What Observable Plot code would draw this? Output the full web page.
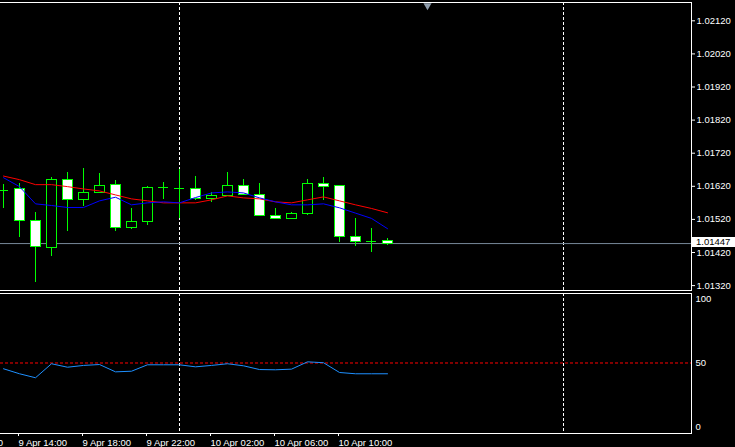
<!DOCTYPE html>
<html><head><meta charset="utf-8">
<script src="https://cdn.jsdelivr.net/npm/d3@7"></script>
<script src="https://cdn.jsdelivr.net/npm/@observablehq/plot@0.6"></script>
<style>
html,body{margin:0;padding:0;background:#000;}
#chart{position:relative;width:735px;height:447px;overflow:hidden;background:#000;}
#chart svg{position:absolute;left:0;overflow:visible;}
</style></head><body><div id="chart"></div>
<script>
// hourly bars, index 0 = 9 Apr 13:00
const bars = d3.range(25);
const open  = [1.01607,1.01612,1.01515,1.01434,1.01640,1.01579,1.01600,1.01625,1.01495,1.01513,1.01616,1.01612,1.01613,1.01581,1.01592,1.01622,1.01595,1.01531,1.01522,1.01537,1.01628,1.01622,1.01467,1.01454,1.01456];
const high  = [1.01625,1.01627,1.01541,1.01648,1.01661,1.01674,1.01658,1.01638,1.01552,1.01619,1.01632,1.01671,1.01650,1.01601,1.01662,1.01641,1.01628,1.01553,1.01541,1.01641,1.01647,1.01622,1.01523,1.01493,1.01462];
const low   = [1.01553,1.01464,1.01330,1.01409,1.01484,1.01560,1.01600,1.01484,1.01489,1.01502,1.01581,1.01522,1.01577,1.01571,1.01592,1.01593,1.01530,1.01522,1.01519,1.01533,1.01577,1.01451,1.01439,1.01421,1.01442];
const close = [1.01607,1.01515,1.01437,1.01640,1.01579,1.01600,1.01622,1.01495,1.01513,1.01616,1.01616,1.01612,1.01581,1.01592,1.01622,1.01595,1.01530,1.01522,1.01537,1.01628,1.01619,1.01466,1.01452,1.01454,1.01447];
const maRed  = [1.01651,1.01640,1.01625,1.01625,1.01619,1.01612,1.01606,1.01594,1.01582,1.01576,1.01570,1.01570,1.01570,1.01579,1.01591,1.01585,1.01582,1.01573,1.01570,1.01579,1.01588,1.01576,1.01564,1.01553,1.01540];
const maBlue = [1.01646,1.01619,1.01567,1.01562,1.01556,1.01556,1.01576,1.01587,1.01564,1.01570,1.01573,1.01570,1.01586,1.01600,1.01603,1.01600,1.01585,1.01573,1.01564,1.01564,1.01567,1.01555,1.01539,1.01523,1.01492];
const osc = [45.5,41.6,38.5,49.4,46.7,48.1,48.8,43.1,43.6,48.6,48.6,48.6,47.0,48.1,49.4,47.8,44.9,44.7,45.2,50.9,50.2,42.6,41.6,41.6,41.6];

const priceTicks = [1.0132,1.0142,1.0152,1.0162,1.0172,1.0182,1.0192,1.0202,1.0212];
const timeTickBars = [-3,1,5,9,13,17,21];
const timeTickLabels = ["9 Apr 10:00","9 Apr 14:00","9 Apr 18:00","9 Apr 22:00","10 Apr 02:00","10 Apr 06:00","10 Apr 10:00"];
const separatorBars = [11,35];
const lastPrice = 1.01447;
const oscLevel = 50;
const oscTicks = [0,50,100];
const shiftBar = 26.5;

const xDomain = [-0.1875, 43];
const priceDomain = [1.013052, 1.021753];
const oscDomain = [-4.9, 104.1];
const halfW = 0.3125;

const candles = bars.map((b,i)=>({i:b,o:open[i],h:high[i],l:low[i],c:close[i]}));
const fmt5 = d3.format(".5f");
const font = "'Liberation Sans', Arial, sans-serif";
const GREEN = "#00ff00";

function priceBox(index, scales, values, dims) {
  const py = scales.y(lastPrice);
  const x0 = dims.width - dims.marginRight + 1;
  const g = d3.create("svg:g");
  g.append("rect").attr("x", x0).attr("y", Math.round(py) - 6)
    .attr("width", dims.marginRight - 1).attr("height", 10).attr("fill", "#fff");
  g.append("text").attr("x", x0 + 4).attr("y", py - 1).attr("dy", "0.35em")
    .attr("text-anchor", "start").attr("fill", "#000").text(fmt5(lastPrice));
  return g.node();
}

const main = Plot.plot({
  width: 735, height: 292,
  marginLeft: 0, marginRight: 44, marginTop: 2, marginBottom: 2,
  style: {background: "#000", color: "#fff", fontFamily: font, fontSize: "9.5px"},
  x: {domain: xDomain, axis: null},
  y: {domain: priceDomain, axis: null},
  marks: [
    Plot.ruleX(separatorBars, {x: d => d, stroke: "#fff", strokeDasharray: "3,2"}),
    Plot.ruleY([lastPrice], {y: d => d, stroke: "#778899"}),
    Plot.ruleX(candles, {x: "i", y1: "l", y2: "h", stroke: GREEN, shapeRendering: "crispEdges"}),
    Plot.rect(candles.filter(d => d.o !== d.c), {
      x1: d => d.i - halfW, x2: d => d.i + halfW, y1: "o", y2: "c",
      fill: d => d.c > d.o ? "#000" : "#fff", stroke: GREEN, shapeRendering: "crispEdges"}),
    Plot.ruleY(candles.filter(d => d.o === d.c), {
      y: "o", x1: d => d.i - halfW, x2: d => d.i + halfW, stroke: GREEN, shapeRendering: "crispEdges"}),
    Plot.line(bars, {x: d => d, y: (d, i) => maRed[i], stroke: "#ff0000", strokeWidth: 1}),
    Plot.line(bars, {x: d => d, y: (d, i) => maBlue[i], stroke: "#0000ff", strokeWidth: 1}),
    Plot.dot([shiftBar], {x: d => d, frameAnchor: "top", dy: 3, symbol: "triangle", rotate: 180, r: 3, fill: "#8e9cab", stroke: "none"}),
    Plot.frame({anchor: "top", stroke: "#fff"}),
    Plot.frame({anchor: "right", stroke: "#fff"}),
    Plot.frame({anchor: "bottom", stroke: "#fff"}),
    Plot.axisY(priceTicks, {anchor: "right", tickSize: 3, tickPadding: 2, tickFormat: fmt5, label: null, stroke: "#fff", fill: "#fff"}),
    priceBox
  ]
});
main.style.top = "0px";

const ind = Plot.plot({
  width: 735, height: 156,
  marginLeft: 0, marginRight: 44, marginTop: 2, marginBottom: 14,
  style: {background: "#000", color: "#fff", fontFamily: font, fontSize: "9.5px"},
  x: {domain: xDomain},
  y: {domain: oscDomain},
  marks: [
    Plot.ruleX(separatorBars, {x: d => d, stroke: "#fff", strokeDasharray: "3,2"}),
    Plot.ruleY([oscLevel], {y: d => d, stroke: "#ff0000", strokeDasharray: "3,2"}),
    Plot.line(bars, {x: d => d, y: (d, i) => osc[i], stroke: "#1e90ff", strokeWidth: 1}),
    Plot.frame({anchor: "top", stroke: "#fff"}),
    Plot.frame({anchor: "right", stroke: "#fff"}),
    Plot.frame({anchor: "bottom", stroke: "#fff"}),
    Plot.axisY(oscTicks, {anchor: "right", tickSize: 0, tickPadding: 4, label: null, fill: "#fff"}),
    Plot.axisX(timeTickBars, {anchor: "bottom", tickSize: 3, tickPadding: 3, textAnchor: "start", dx: -1,
      tickFormat: d => timeTickLabels[timeTickBars.indexOf(d)], label: null, stroke: "#fff", fill: "#fff"})
  ]
});
ind.style.top = "291px";

const root = document.getElementById("chart");
root.appendChild(main);
root.appendChild(ind);
</script>
</body></html>
